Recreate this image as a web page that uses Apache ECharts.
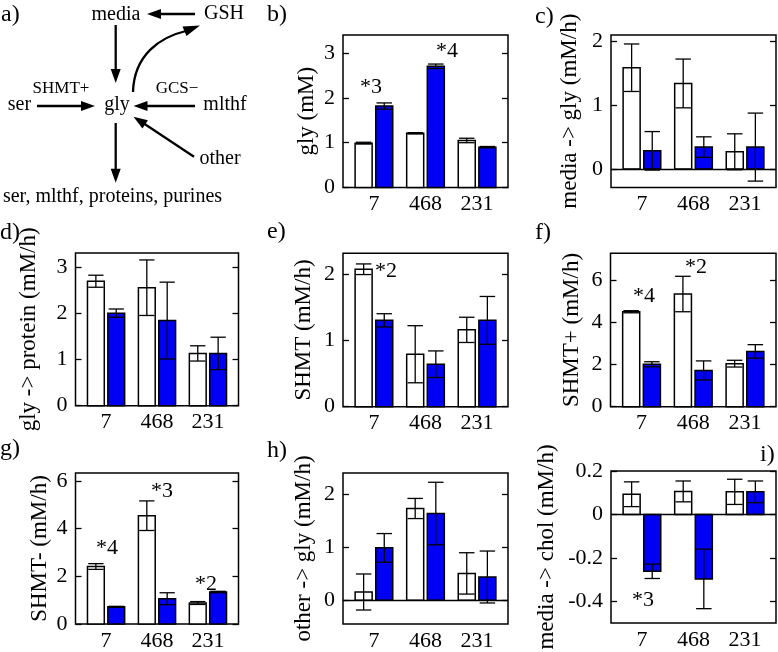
<!DOCTYPE html>
<html><head><meta charset="utf-8">
<script src="https://cdn.jsdelivr.net/npm/echarts@6/dist/echarts.min.js"></script>
<style>html,body{margin:0;padding:0;background:#fff}#c{width:778px;height:652px}</style>
</head><body><div id="c"></div>
<script>
// ---------------- data ----------------
const categories = ['7', '468', '231'];

// b) gly (mM)
const glyWhite = [0.99, 1.21, 1.05];
const glyWhiteErr = [0.02, 0.015, 0.05];
const glyBlue = [1.82, 2.71, 0.90];
const glyBlueErr = [0.07, 0.05, 0.015];
const glyTicks = [0, 1, 2, 3];

// c) media -> gly (mM/h)
const mediaGlyWhite = [1.58, 1.335, 0.27];
const mediaGlyWhiteErr = [0.37, 0.38, 0.28];
const mediaGlyBlue = [0.285, 0.343, 0.343];
const mediaGlyBlueErr = [0.30, 0.16, 0.53];
const mediaGlyTicks = [0, 1, 2];

// d) gly -> protein (mM/h)
const proteinWhite = [2.69, 2.55, 1.13];
const proteinWhiteErr = [0.13, 0.60, 0.165];
const proteinBlue = [2.0, 1.84, 1.13];
const proteinBlueErr = [0.09, 0.83, 0.35];
const proteinTicks = [0, 1, 2, 3];

// e) SHMT (mM/h)
const shmtWhite = [2.07, 0.79, 1.157];
const shmtWhiteErr = [0.08, 0.43, 0.19];
const shmtBlue = [1.30, 0.64, 1.30];
const shmtBlueErr = [0.10, 0.20, 0.36];
const shmtTicks = [0, 1, 2];

// f) SHMT+ (mM/h)
const shmtPlusWhite = [4.5, 5.34, 2.04];
const shmtPlusWhiteErr = [0.05, 0.84, 0.16];
const shmtPlusBlue = [2.01, 1.72, 2.62];
const shmtPlusBlueErr = [0.12, 0.45, 0.32];
const shmtPlusTicks = [0, 2, 4, 6];

// g) SHMT- (mM/h)
const shmtMinusWhite = [2.41, 4.54, 0.88];
const shmtMinusWhiteErr = [0.12, 0.62, 0.06];
const shmtMinusBlue = [0.72, 1.06, 1.34];
const shmtMinusBlueErr = [0.02, 0.25, 0.03];
const shmtMinusTicks = [0, 2, 4, 6];

// h) other -> gly (mM/h)
const otherWhite = [0.154, 1.73, 0.505];
const otherWhiteErr = [0.34, 0.19, 0.39];
const otherBlue = [0.987, 1.635, 0.437];
const otherBlueErr = [0.27, 0.59, 0.49];
const otherTicks = [0, 1, 2];

// i) media -> chol (mM/h)
const cholWhite = [0.093, 0.106, 0.104];
const cholWhiteErr = [0.057, 0.048, 0.058];
const cholBlue = [-0.262, -0.297, 0.104];
const cholBlueErr = [0.033, 0.137, 0.05];
const cholTicks = [-0.4, -0.2, 0, 0.2];

// ---------------- layout ----------------
const FONT = 'Liberation Serif';
const BLUE = '#0000f5';
const BAR_OFF = 0.2, BAR_W = 0.33, CAP_W = 0.3;

const panels = [
  {name: 'gly (mM)', w: glyWhite, we: glyWhiteErr, b: glyBlue, be: glyBlueErr, ticks: glyTicks,
   min: 0, max: 3.41, grid: {left: 343, top: 35, width: 165, height: 152.4}, gap: 25, zero: false},
  {name: 'media -> gly (mM/h)', w: mediaGlyWhite, we: mediaGlyWhiteErr, b: mediaGlyBlue, be: mediaGlyBlueErr, ticks: mediaGlyTicks,
   min: -0.285, max: 2.09, grid: {left: 611, top: 35, width: 165, height: 152.4}, gap: 30, zero: true},
  {name: 'gly -> protein (mM/h)', w: proteinWhite, we: proteinWhiteErr, b: proteinBlue, be: proteinBlueErr, ticks: proteinTicks,
   min: 0, max: 3.3, grid: {left: 75.5, top: 253, width: 163, height: 152.7}, gap: 35, zero: false},
  {name: 'SHMT (mM/h)', w: shmtWhite, we: shmtWhiteErr, b: shmtBlue, be: shmtBlueErr, ticks: shmtTicks,
   min: 0, max: 2.31, grid: {left: 343, top: 253.3, width: 165, height: 153.4}, gap: 28, zero: false},
  {name: 'SHMT+ (mM/h)', w: shmtPlusWhite, we: shmtPlusWhiteErr, b: shmtPlusBlue, be: shmtPlusBlueErr, ticks: shmtPlusTicks,
   min: 0, max: 7.27, grid: {left: 610.5, top: 253.3, width: 165.5, height: 153.4}, gap: 27, zero: false},
  {name: 'SHMT- (mM/h)', w: shmtMinusWhite, we: shmtMinusWhiteErr, b: shmtMinusBlue, be: shmtMinusBlueErr, ticks: shmtMinusTicks,
   min: 0, max: 6.33, grid: {left: 75.5, top: 473, width: 163, height: 152.7}, gap: 24, zero: false},
  {name: 'other -> gly (mM/h)', w: otherWhite, we: otherWhiteErr, b: otherBlue, be: otherBlueErr, ticks: otherTicks,
   min: -0.45, max: 2.4, grid: {left: 343, top: 473, width: 165, height: 154}, gap: 28, zero: true},
  {name: 'media -> chol (mM/h)', w: cholWhite, we: cholWhiteErr, b: cholBlue, be: cholBlueErr, ticks: cholTicks,
   min: -0.5, max: 0.2, grid: {left: 611, top: 471, width: 165, height: 152}, gap: 53, zero: true}
];

function renderBar(params, api) {
  const x = api.value(0), v = api.value(1), e = api.value(2), kind = api.value(3);
  const base = api.coord([x, 0]);
  const top = api.coord([x, v]);
  const lo = api.coord([x, v - e]);
  const hi = api.coord([x, v + e]);
  const w = api.size([BAR_W, 0])[0];
  const cw = api.size([CAP_W, 0])[0];
  const cx = base[0];
  const lineStyle = {stroke: '#000', lineWidth: 1.3};
  return {
    type: 'group',
    children: [
      {type: 'rect', shape: {x: cx - w / 2, y: Math.min(base[1], top[1]), width: w, height: Math.abs(top[1] - base[1])},
       style: {fill: kind ? BLUE : '#fff', stroke: '#000', lineWidth: 1.5}},
      {type: 'line', shape: {x1: cx, y1: lo[1], x2: cx, y2: hi[1]}, style: lineStyle},
      {type: 'line', shape: {x1: cx - cw / 2, y1: lo[1], x2: cx + cw / 2, y2: lo[1]}, style: lineStyle},
      {type: 'line', shape: {x1: cx - cw / 2, y1: hi[1], x2: cx + cw / 2, y2: hi[1]}, style: lineStyle}
    ]
  };
}

const grids = [], xAxes = [], yAxes = [], series = [];
panels.forEach((p, i) => {
  grids.push(Object.assign({show: true, borderColor: '#000', borderWidth: 1.5, backgroundColor: 'transparent'}, p.grid));
  xAxes.push({
    gridIndex: i, type: 'value', min: -0.6, max: 2.6, position: 'bottom',
    axisLine: {show: false, onZero: false}, axisTick: {show: false}, splitLine: {show: false},
    axisLabel: {customValues: [0, 1, 2], formatter: v => categories[Math.round(v)],
                fontFamily: FONT, fontSize: 22, color: '#000', margin: 6}
  });
  const mkTick = () => ({show: true, inside: true, length: 6, customValues: p.ticks.slice(), lineStyle: {color: '#000', width: 1.3}});
  yAxes.push({
    gridIndex: i, type: 'value', min: p.min, max: p.max, position: 'left',
    axisLine: {show: false, onZero: false}, axisTick: mkTick(), splitLine: {show: false},
    axisLabel: {customValues: p.ticks.slice(), fontFamily: FONT, fontSize: 22, color: '#000', margin: 8},
    name: p.name, nameLocation: 'middle', nameRotate: 90, nameGap: p.gap,
    nameTextStyle: {fontFamily: FONT, fontSize: 23, color: '#000'}
  });
  yAxes.push({
    gridIndex: i, type: 'value', min: p.min, max: p.max, position: 'right',
    axisLine: {show: false, onZero: false}, axisTick: mkTick(), splitLine: {show: false},
    axisLabel: {show: false}
  });
  const data = [];
  categories.forEach((c, k) => {
    data.push([k - BAR_OFF, p.w[k], p.we[k], 0]);
    data.push([k + BAR_OFF, p.b[k], p.be[k], 1]);
  });
  const s = {
    type: 'custom', xAxisIndex: i, yAxisIndex: 2 * i, renderItem: renderBar,
    encode: {x: 0, y: 1}, data: data, silent: true, animation: false, z: 3
  };
  if (p.zero) {
    s.markLine = {silent: true, symbol: 'none', label: {show: false}, animation: false,
                  lineStyle: {color: '#000', type: 'solid', width: 1.3}, data: [{yAxis: 0}]};
  }
  series.push(s);
});

// ---------------- graphics: panel a, labels, annotations ----------------
function txt(text, x, y, size, align) {
  return {type: 'text', z: 10, style: {text: text, x: x, y: y, fill: '#000',
    font: size + 'px "' + FONT + '"', fontSize: size, fontFamily: FONT,
    align: align || 'center', verticalAlign: 'middle',
    textAlign: align || 'center', textVerticalAlign: 'middle'}};
}
function arrow(x1, y1, x2, y2) {
  const L = 14, H = 5;
  const dx = x2 - x1, dy = y2 - y1, d = Math.hypot(dx, dy), ux = dx / d, uy = dy / d;
  const bx = x2 - ux * L, by = y2 - uy * L;
  return [
    {type: 'line', z: 10, shape: {x1: x1, y1: y1, x2: bx + ux * 2, y2: by + uy * 2}, style: {stroke: '#000', lineWidth: 2.3}},
    {type: 'polygon', z: 10, shape: {points: [[x2, y2], [bx - uy * H, by + ux * H], [bx + uy * H, by - ux * H]]}, style: {fill: '#000'}}
  ];
}

const graphics = [
  txt('a)', 1, 15, 24, 'left'),
  txt('media', 116, 15, 20),
  txt('GSH', 224, 13.5, 20),
  txt('SHMT+', 61, 89, 17),
  txt('ser', 19.5, 105, 20),
  txt('gly', 117, 104.5, 20),
  txt('GCS\u2212', 177, 89, 17),
  txt('mlthf', 225, 105, 20),
  txt('other', 220, 158.5, 20),
  txt('ser, mlthf, proteins, purines', 112.5, 196.5, 20),
  ...arrow(195, 14, 147, 14),
  ...arrow(115.7, 25, 115.7, 83),
  ...arrow(37, 106, 95, 106),
  ...arrow(195, 106, 133.5, 106),
  ...arrow(194, 156.7, 133.5, 116.7),
  ...arrow(115.7, 123, 115.7, 182.7),
  {type: 'bezierCurve', z: 10, shape: {x1: 133, y1: 92, cpx1: 134, cpy1: 55, cpx2: 160, cpy2: 37, x2: 186, y2: 31},
   style: {stroke: '#000', lineWidth: 2.3, fill: null}},
  {type: 'polygon', z: 10, shape: {points: [[200, 25.5], [182.5, 26.5], [186.5, 36]]}, style: {fill: '#000'}},
  // panel labels
  txt('b)', 267, 15, 24, 'left'),
  txt('c)', 535, 17, 24, 'left'),
  txt('d)', 0, 233, 24, 'left'),
  txt('e)', 267, 232, 24, 'left'),
  txt('f)', 535, 233, 24, 'left'),
  txt('g)', 0, 449, 24, 'left'),
  txt('h)', 267, 451, 24, 'left'),
  txt('i)', 760, 455, 24, 'left'),
  // significance annotations
  txt('*3', 371, 87, 22),
  txt('*4', 447, 51, 22),
  txt('*2', 386, 271, 22),
  txt('*4', 644, 296, 22),
  txt('*2', 696, 267, 22),
  txt('*4', 107, 548, 22),
  txt('*3', 162, 491, 22),
  txt('*2', 206, 584, 22),
  txt('*3', 643, 600, 22)
];

const chart = echarts.init(document.getElementById('c'), null, {renderer: 'canvas'});
chart.setOption({
  animation: false,
  backgroundColor: '#fff',
  grid: grids, xAxis: xAxes, yAxis: yAxes, series: series,
  graphic: graphics
});
</script>
</body></html>
